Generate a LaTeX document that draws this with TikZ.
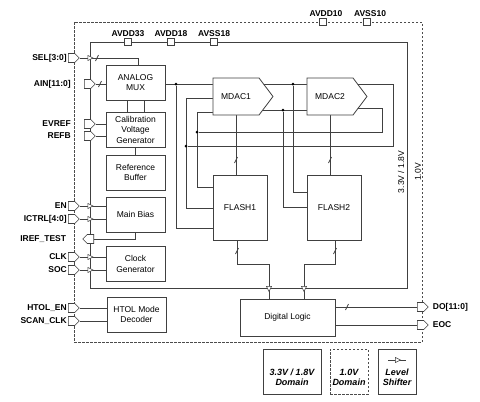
\documentclass[tikz,border=0pt]{standalone}
\usepackage{fontspec}
\setmainfont{Liberation Sans}
\usetikzlibrary{shapes.symbols,shapes.geometric,backgrounds,calc}

\begin{document}
\begin{tikzpicture}[x=1pt, y=-1pt,
    wire/.style={draw=black!75, line width=0.7pt},
    dom/.style={draw=black!70, line width=0.7pt, dash pattern=on 2.5pt off 1.5pt},
    block/.style={draw=black!75, line width=0.8pt, fill=white, minimum width=59pt, minimum height=35pt, inner sep=1pt, align=center, font=\fontsize{8.5}{10.5}\selectfont},
    mdac/.style={block, signal, signal to=east, signal pointer angle=106, minimum width=60pt, minimum height=37pt},
    port/.style={signal, draw=black!75, line width=0.6pt, fill=white, minimum width=11pt, minimum height=9pt, inner sep=0pt},
    lshift/.style={isosceles triangle, isosceles triangle stretches, draw=black!75, line width=0.5pt, fill=white, minimum width=5pt, minimum height=5pt, inner sep=0pt},
    pad/.style={draw=black!75, line width=0.6pt, fill=white, minimum size=7pt, inner sep=0pt},
    pin/.style={font=\fontsize{8.5}{10}\selectfont\bfseries, inner sep=1pt},
    dot/.style={circle, fill=black, minimum size=3pt, inner sep=0pt},
    legend/.style={draw=black!75, line width=0.8pt, minimum height=45pt, inner sep=0pt},
    legtxt/.style={align=center, inner sep=0pt, font=\fontsize{9}{10.5}\selectfont\bfseries\itshape}]
    \useasboundingbox (0,0) rectangle (480,402);

    % Draw the two supply domains
    \draw[dom] (74,22) rectangle (422,342);
    \draw[wire] (90,42) rectangle (407,288);
    \node[rotate=90, font=\fontsize{8.5}{10}\selectfont] (v33) at (401,172) {3.3V / 1.8V};
    \node[rotate=90, font=\fontsize{8.5}{10}\selectfont] (v10) at (418,172) {1.0V};

    % Add the blocks
    \node[block] (mux) at (135.5,82.5) {ANALOG\\MUX};
    \node[block] (cal) at (135.5,129.5) {Calibration\\Voltage\\Generator};
    \node[block] (refbuf) at (135.5,172.5) {Reference\\Buffer};
    \node[block] (bias) at (135.5,214.5) {Main Bias};
    \node[block] (clkgen) at (135.5,264) {Clock\\Generator};
    \node[block] (htoldec) at (136.5,314.5) {HTOL Mode\\Decoder};
    \node[mdac] (mdacA) at (236,96.5) {MDAC1};
    \node[mdac] (mdacB) at (330,96.5) {MDAC2};
    \node[block, minimum width=54pt, minimum height=65pt] (flashA) at (240,207.5) {FLASH1};
    \node[block, minimum width=54pt, minimum height=65pt] (flashB) at (334,207.5) {FLASH2};
    \node[block, minimum width=95pt, minimum height=37pt] (dl) at (287.5,317.5) {Digital Logic};

    % Add the supply pads
    \foreach \p/\x in {AVDD33/128, AVDD18/171, AVSS18/214}
        \node[pad, label={[pin]above:\p}] (pad\p) at (\x,42) {};
    \foreach \p/\x in {AVDD10/323, AVSS10/367}
        \node[pad, label={[pin, xshift=3pt]above:\p}] (pad\p) at (\x,22) {};

    % Add the pins
    \foreach \pname/\y/\txt in {sel/58/{SEL[3:0]}, en/206/EN, ictrl/219/{ICTRL[4:0]}, clk/257/CLK, soc/270/SOC, htolen/308/HTOL\_EN, scanclk/321/SCAN\_CLK}
        \node[port, anchor=west, label={[pin]left:\txt}] (\pname) at (68,\y) {};
    \foreach \pname/\y/\txt in {ain/84/{AIN[11:0]}, evref/124/EVREF, refb/136/REFB}
        \node[port, anchor=west, label={[pin, label distance=12pt]left:\txt}] (\pname) at (84,\y) {};
    \node[port, signal to=west, anchor=east, label={[pin, label distance=15pt]left:IREF\_TEST}] (iref) at (94,239) {};
    \foreach \pname/\y/\txt in {dout/307/{DO[11:0]}, eoc/325/EOC}
        \node[port, anchor=west, label={[pin, label distance=3pt]right:\txt}] (\pname) at (417,\y) {};

    % Add the level shifters
    \foreach \pname/\y in {sel/58, en/206, ictrl/219, clk/257, soc/270}
        \node[lshift] (ls\pname) at (89.5,\y) {};
    \node[lshift, shape border rotate=270] (lsA) at (269,288) {};
    \node[lshift, shape border rotate=270] (lsB) at (304,288) {};

    % Add the junctions
    \foreach \j/\x/\y in {jA/176/84, jB/186/146, jC/197/132, jD/293/84, jE/283/110}
        \node[dot] (\j) at (\x,\y) {};

    % Add the legend
    \node[legend, minimum width=58pt] (leg33) at (292,371.5) {};
    \node[legend, dom, minimum width=38pt] (leg10) at (349,371.5) {};
    \node[legend, minimum width=38pt] (legls) at (397,371.5) {};
    \node[legtxt] (leg33txt) at (292,377.5) {3.3V / 1.8V\\Domain};
    \node[legtxt] (leg10txt) at (349,377.5) {1.0V\\Domain};
    \node[legtxt] (leglstxt) at (397,377.5) {Level\\Shifter};
    \node[lshift] (legsym) at (397,360) {};

    \begin{pgfonlayer}{background}
        % Wire the pins
        \draw[wire] (sel.east) -| ($(mux.north)+(2.5,0)$);
        \draw[wire] (ain.east) -- (ain.east -| mux.west);
        \foreach \pname in {evref, refb}
            \draw[wire] (\pname.east) -- (\pname.east -| cal.west);
        \foreach \pname in {en, ictrl}
            \draw[wire] (\pname.east) -- (\pname.east -| bias.west);
        \foreach \pname in {clk, soc}
            \draw[wire] (\pname.east) -- (\pname.east -| clkgen.west);
        \foreach \pname in {htolen, scanclk}
            \draw[wire] (\pname.east) -- (\pname.east -| htoldec.west);
        \draw[wire] (iref.east) -| (bias.south);
        \draw[wire] (dl.east |- dout) -- (dout.west);
        \draw[wire] (dl.east |- eoc) -- (eoc.west);

        % Wire the left column
        \foreach \dx in {-8.5, 8.5}
            \draw[wire] ($(mux.south)+(\dx,0)$) -- ($(cal.north)+(\dx,0)$);
        \draw[wire] (cal.south) -- (refbuf.north);

        % Wire the pipeline
        \draw[wire] (mux.east |- jA) -- (mdacA.west |- jA);
        \draw[wire] (jA) |- (flashA.west |- 0,228);
        \draw[wire] (mdacA.west |- 0,98) -| (jB |- 0,208) -- (flashA.west |- 0,208);
        \draw[wire] (mdacA.west |- 0,112) -| (jC |- 0,187) -- (flashA.west |- 0,187);
        \draw[wire] (mdacA.center |- jD) -- (mdacB.west |- jD);
        \draw[wire] (jD) |- (flashB.west |- 0,192);
        \draw[wire] (mdacA.center |- jE) -- (mdacB.west |- jE);
        \draw[wire] (jE) |- (flashB.west |- 0,207);
        \draw[wire] (mdacB.center |- 0,84) -| (393,146) -- (jB);
        \draw[wire] (mdacB.center |- 0,108) -| (382,132) -- (jC);
        \draw[wire] (mdacA.south) -- (mdacA.south |- flashA.north);
        \draw[wire] (mdacB.south) -- (mdacB.south |- flashB.north);
        \draw[wire] ($(flashA.south)+(-3,0)$) |- (lsA |- 0,264) -- (lsA |- dl.north);
        \draw[wire] ($(flashB.south)+(1,0)$) |- (lsB |- 0,264) -- (lsB |- dl.north);
        \draw[wire] ($(legsym)+(-9,0)$) -- ($(legsym)+(9,0)$);
    \end{pgfonlayer}

    % Add the bus marks
    \foreach \x/\y in {97/58, 100/84, 236/160, 330/160, 237/251, 335/251, 347/307}
        \draw[wire] (\x-1.5,\y+3) -- (\x+1.5,\y-3);
\end{tikzpicture}
\end{document}
